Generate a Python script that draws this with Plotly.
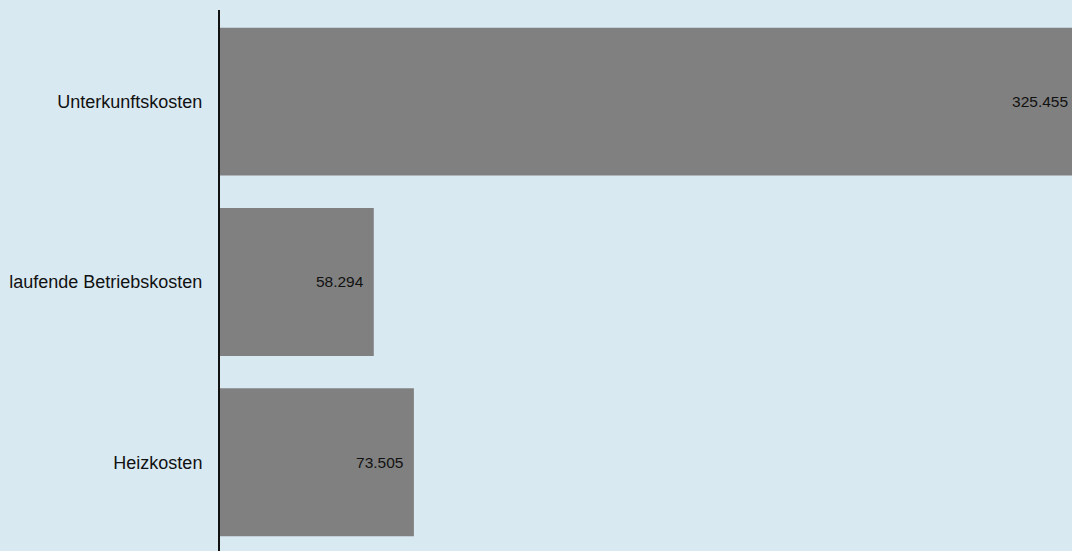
import plotly.graph_objects as go

categories = ["Unterkunftskosten", "laufende Betriebskosten", "Heizkosten"]
values = [325.455, 58.294, 73.505]
value_labels = ["325.455", "58.294", "73.505"]

fig = go.Figure(go.Bar(
    x=values, y=categories, orientation="h",
    marker=dict(color="#808080", line=dict(width=0)),
    text=value_labels, texttemplate="%{text}\u00a0\u2009",
    textposition="inside", insidetextanchor="end",
    textfont=dict(color="#111111", size=15.5, family="Liberation Sans, Arial, sans-serif"),
    cliponaxis=True,
))

fig.update_layout(
    width=1072, height=551,
    margin=dict(l=220, r=0, t=10, b=0),
    paper_bgcolor="#d9e9f2", plot_bgcolor="#d9e9f2",
    bargap=0.18,
    showlegend=False,
    font=dict(family="Liberation Sans, Arial, sans-serif", color="#111111"),
)
fig.update_xaxes(range=[0, 323], visible=False, showgrid=False, zeroline=False)
fig.update_yaxes(
    categoryorder="array", categoryarray=categories, range=[2.492, -0.508],
    showline=True, linecolor="#111111", linewidth=2, showgrid=False, zeroline=False,
    ticks="", ticklabelstandoff=12, tickfont=dict(size=18),
)

fig.write_html(
    "out.html",
    config={"displayModeBar": False},
    post_script="document.body.style.margin='0';document.body.style.overflow='hidden';",
)
